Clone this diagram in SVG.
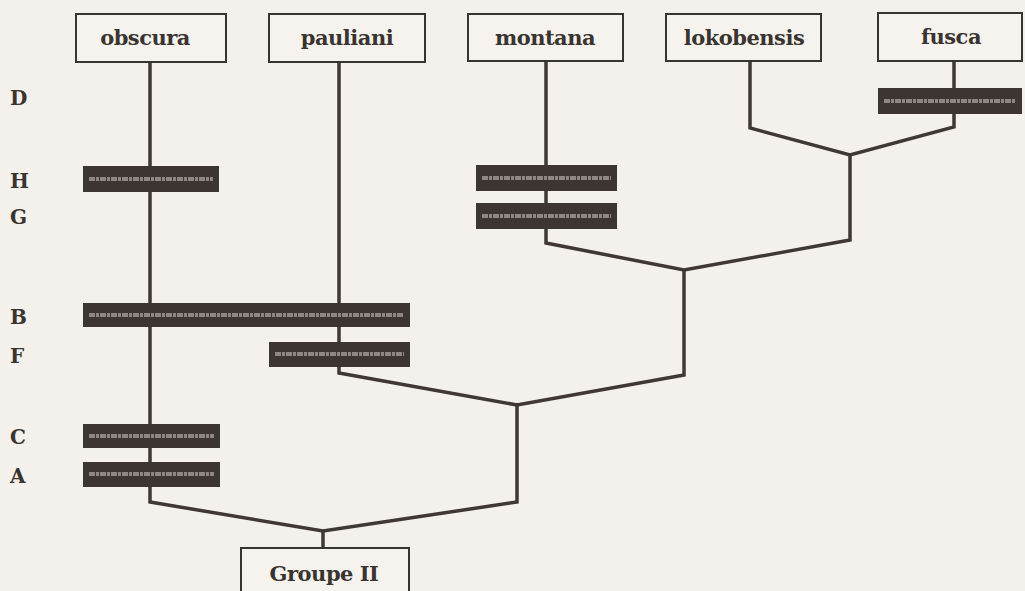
<svg xmlns="http://www.w3.org/2000/svg" width="1025" height="591" viewBox="0 0 1025 591">
<style>
.box{fill:#f6f3ef;stroke:#3a3431;stroke-width:2}
.lbl{font-family:"DejaVu Serif",serif;font-weight:bold;font-size:21px;fill:#3a3431;text-anchor:middle;letter-spacing:-0.5px}
.row{font-family:"DejaVu Serif",serif;font-weight:bold;font-size:20px;fill:#3a3431}
.br{fill:none;stroke:#3f3835;stroke-width:3.5;stroke-linejoin:miter}
.bar{fill:#3c3532}
.barline{stroke:#8e8884;stroke-width:4;stroke-dasharray:6 1 3 1}
</style>
<rect width="1025" height="591" fill="#f4f1ec"/>
<g id="connectors">
<path class="br" d="M150,62 V502 L323,531 L517,502 V403"/>
<path class="br" d="M323,531 V548"/>
<path class="br" d="M339,62 V373 L517,405 L684,375 V270"/>
<path class="br" d="M546,61 V243 L684,270 L850,240 V155"/>
<path class="br" d="M750,61 V128 L850,155 L954,127 V61"/>
</g>
<g id="bars">
<rect class="bar" x="878" y="88" width="144" height="26"/><line class="barline" x1="884" y1="101" x2="1016" y2="101"/>
<rect class="bar" x="83" y="166" width="136" height="26"/><line class="barline" x1="89" y1="179" x2="213" y2="179"/>
<rect class="bar" x="476" y="165" width="141" height="26"/><line class="barline" x1="482" y1="178" x2="611" y2="178"/>
<rect class="bar" x="476" y="203" width="141" height="26"/><line class="barline" x1="482" y1="216" x2="611" y2="216"/>
<rect class="bar" x="83" y="303" width="327" height="24"/><line class="barline" x1="89" y1="315" x2="404" y2="315"/>
<rect class="bar" x="269" y="342" width="141" height="25"/><line class="barline" x1="275" y1="354" x2="404" y2="354"/>
<rect class="bar" x="83" y="424" width="137" height="24"/><line class="barline" x1="89" y1="436" x2="214" y2="436"/>
<rect class="bar" x="83" y="462" width="137" height="25"/><line class="barline" x1="89" y1="474" x2="214" y2="474"/>
</g>
<g id="node-obscura"><rect class="box" x="76" y="14" width="150" height="48"/><text class="lbl" x="145" y="45">obscura</text></g>
<g id="node-pauliani"><rect class="box" x="269" y="14" width="156" height="48"/><text class="lbl" x="347" y="45">pauliani</text></g>
<g id="node-montana"><rect class="box" x="468" y="14" width="155" height="47"/><text class="lbl" x="545" y="45">montana</text></g>
<g id="node-lokobensis"><rect class="box" x="666" y="14" width="155" height="47"/><text class="lbl" x="744" y="45">lokobensis</text></g>
<g id="node-fusca"><rect class="box" x="878" y="13" width="144" height="48"/><text class="lbl" x="951" y="44">fusca</text></g>
<g id="node-groupe"><rect class="box" x="241" y="548" width="168" height="50"/><text class="lbl" x="324" y="581">Groupe II</text></g>
<g id="rows">
<text class="row" x="10" y="105">D</text>
<text class="row" x="10" y="188">H</text>
<text class="row" x="10" y="224">G</text>
<text class="row" x="10" y="324">B</text>
<text class="row" x="10" y="363">F</text>
<text class="row" x="10" y="444">C</text>
<text class="row" x="10" y="483">A</text>
</g>
</svg>
